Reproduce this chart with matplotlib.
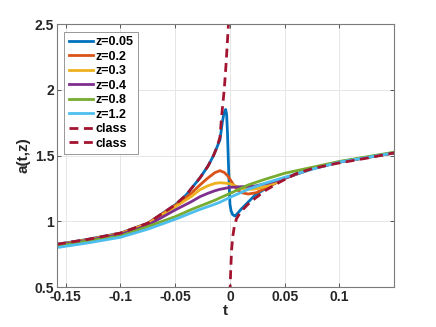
import matplotlib
matplotlib.use("Agg")
import matplotlib.pyplot as plt

plt.rcParams['font.family'] = ['Liberation Sans', 'DejaVu Sans']
plt.rcParams['font.weight'] = 'bold'

# values
class_left_t = [-0.158, -0.13, -0.1, -0.075, -0.05, -0.04, -0.0274, -0.02, -0.015, -0.012,
                -0.0091, -0.0076, -0.0052, -0.0035, -0.0015, -0.0005]
class_left_a = [0.825, 0.862, 0.91, 0.985, 1.125, 1.2, 1.33, 1.42, 1.5, 1.56,
                1.64, 1.8, 2.0, 2.2, 2.48, 2.7]

class_right_t = [0.0, 0.0008, 0.0015, 0.0025, 0.004, 0.006, 0.009, 0.012, 0.016, 0.02, 0.027,
                 0.0335, 0.046, 0.06, 0.075, 0.0974, 0.125, 0.15]
class_right_a = [0.45, 0.65, 0.78, 0.88, 0.96, 1.02, 1.06, 1.09, 1.125, 1.155, 1.2,
                 1.24, 1.30, 1.36, 1.40, 1.44, 1.48, 1.52]

z_labels = ['z=0.05', 'z=0.2', 'z=0.3', 'z=0.4', 'z=0.8', 'z=1.2']

t_z005 = [-0.158, -0.13, -0.1, -0.075, -0.05, -0.04, -0.0274, -0.02, -0.015, -0.012, -0.0091,
          -0.007, -0.0055, -0.0039, -0.003, -0.0022, -0.0015, -0.0008, 0.0, 0.001, 0.0025,
          0.0046, 0.007, 0.01, 0.016, 0.023, 0.038, 0.05, 0.075, 0.1, 0.125, 0.15]
a_z005 = [0.825, 0.862, 0.91, 0.985, 1.125, 1.2, 1.33, 1.42, 1.5, 1.56, 1.62,
          1.75, 1.82, 1.85, 1.81, 1.66, 1.47, 1.3, 1.13, 1.08, 1.05,
          1.04, 1.06, 1.09, 1.14, 1.2, 1.276, 1.327, 1.40, 1.45, 1.485, 1.52]

t_z02 = [-0.158, -0.13, -0.1, -0.075, -0.05, -0.035, -0.0274, -0.02, -0.0137, -0.0091, -0.005,
         -0.0015, 0.0015, 0.0046, 0.0075, 0.0107, 0.0167, 0.024, 0.032, 0.044, 0.05, 0.075,
         0.1, 0.125, 0.15]
a_z02 = [0.822, 0.86, 0.908, 0.985, 1.12, 1.215, 1.276, 1.33, 1.37, 1.385, 1.37,
         1.34, 1.30, 1.26, 1.235, 1.217, 1.207, 1.217, 1.25, 1.30, 1.327, 1.40,
         1.45, 1.485, 1.52]

t_z03 = [-0.158, -0.13, -0.1, -0.075, -0.05, -0.035, -0.0274, -0.02, -0.0137, -0.0091, -0.0046,
         0.0, 0.003, 0.007, 0.011, 0.016, 0.02, 0.026, 0.032, 0.044, 0.05, 0.075, 0.1, 0.125, 0.15]
a_z03 = [0.82, 0.857, 0.905, 0.98, 1.11, 1.19, 1.24, 1.27, 1.288, 1.293, 1.29,
         1.285, 1.276, 1.262, 1.25, 1.245, 1.243, 1.25, 1.263, 1.30, 1.327, 1.40, 1.45, 1.485, 1.52]

t_z04 = [-0.158, -0.13, -0.1, -0.075, -0.05, -0.035, -0.0274, -0.02, -0.0137, -0.0091, -0.0046,
         0.0, 0.005, 0.011, 0.017, 0.023, 0.035, 0.05, 0.075, 0.1, 0.125, 0.15]
a_z04 = [0.818, 0.855, 0.9, 0.97, 1.086, 1.15, 1.187, 1.213, 1.232, 1.243, 1.25,
         1.258, 1.26, 1.263, 1.265, 1.268, 1.29, 1.327, 1.40, 1.45, 1.485, 1.52]

t_z08 = [-0.158, -0.13, -0.1, -0.075, -0.05, -0.035, -0.0274, -0.0137, -0.0091, 0.0015, 0.0167,
         0.032, 0.05, 0.075, 0.1, 0.125, 0.15]
a_z08 = [0.81, 0.85, 0.888, 0.96, 1.035, 1.09, 1.115, 1.16, 1.178, 1.217, 1.276,
         1.319, 1.365, 1.41, 1.455, 1.49, 1.525]

t_z12 = [-0.158, -0.13, -0.1, -0.075, -0.05, -0.035, -0.0274, -0.0137, -0.0091, 0.0015, 0.0167,
         0.032, 0.05, 0.075, 0.1, 0.125, 0.15]
a_z12 = [0.80, 0.835, 0.878, 0.94, 1.015, 1.065, 1.09, 1.13, 1.145, 1.187, 1.243,
         1.289, 1.334, 1.395, 1.45, 1.485, 1.52]

x_ticks = [-0.15, -0.1, -0.05, 0, 0.05, 0.1]
x_ticklabels = ['-0.15', '-0.1', '-0.05', '0', '0.05', '0.1']
y_ticks = [0.5, 1, 1.5, 2, 2.5]
y_ticklabels = ['0.5', '1', '1.5', '2', '2.5']

colors = ['#0072BD', '#D95319', '#EDB120', '#7E2F8E', '#77AC30', '#4DBEEE']
class_color = '#A2142F'

fig = plt.figure(figsize=(4.36, 3.27), dpi=100)
ax = fig.add_axes([0.1307, 0.1223, 0.7733, 0.8043])

series = [(t_z005, a_z005), (t_z02, a_z02), (t_z03, a_z03),
          (t_z04, a_z04), (t_z08, a_z08), (t_z12, a_z12)]
for (t, a), c, lab in zip(series, colors, z_labels):
    ax.plot(t, a, color=c, lw=2, label=lab)

ax.plot(class_left_t, class_left_a, color=class_color, lw=2, ls=(0, (3.2, 2.0)), label='class')
ax.plot(class_right_t, class_right_a, color=class_color, lw=2, ls=(0, (3.2, 2.0)), label='class')

ax.set_xlim(-0.158, 0.15)
ax.set_ylim(0.5, 2.5)
ax.set_xticks(x_ticks)
ax.set_xticklabels(x_ticklabels)
ax.set_yticks(y_ticks)
ax.set_yticklabels(y_ticklabels)
ax.tick_params(direction='in', length=3, width=0.6, color='#444444',
               labelsize=10, top=True, right=True, pad=2)
for lbl in ax.get_xticklabels() + ax.get_yticklabels():
    lbl.set_fontweight('bold')
    lbl.set_color('#262626')
for sp in ax.spines.values():
    sp.set_color('#7a7a7a')
    sp.set_linewidth(0.8)
ax.grid(True, color='#e6e6e6', lw=0.7)
ax.set_axisbelow(True)

ax.set_xlabel('t', fontsize=11, fontweight='bold', labelpad=0, color='#262626')
ax.set_ylabel('a(t,z)', fontsize=11, fontweight='bold', labelpad=3, color='#262626')

leg = ax.legend(loc='upper left', bbox_to_anchor=(0.022, 0.97), fontsize=9,
                frameon=True, fancybox=False, framealpha=1, edgecolor='#888888',
                handlelength=1.95, handletextpad=0.2, labelspacing=0.2, borderpad=0.35,
                borderaxespad=0)
leg.get_frame().set_linewidth(0.6)
for txt in leg.get_texts():
    txt.set_fontweight('bold')

fig.savefig('out.png', dpi=100)
